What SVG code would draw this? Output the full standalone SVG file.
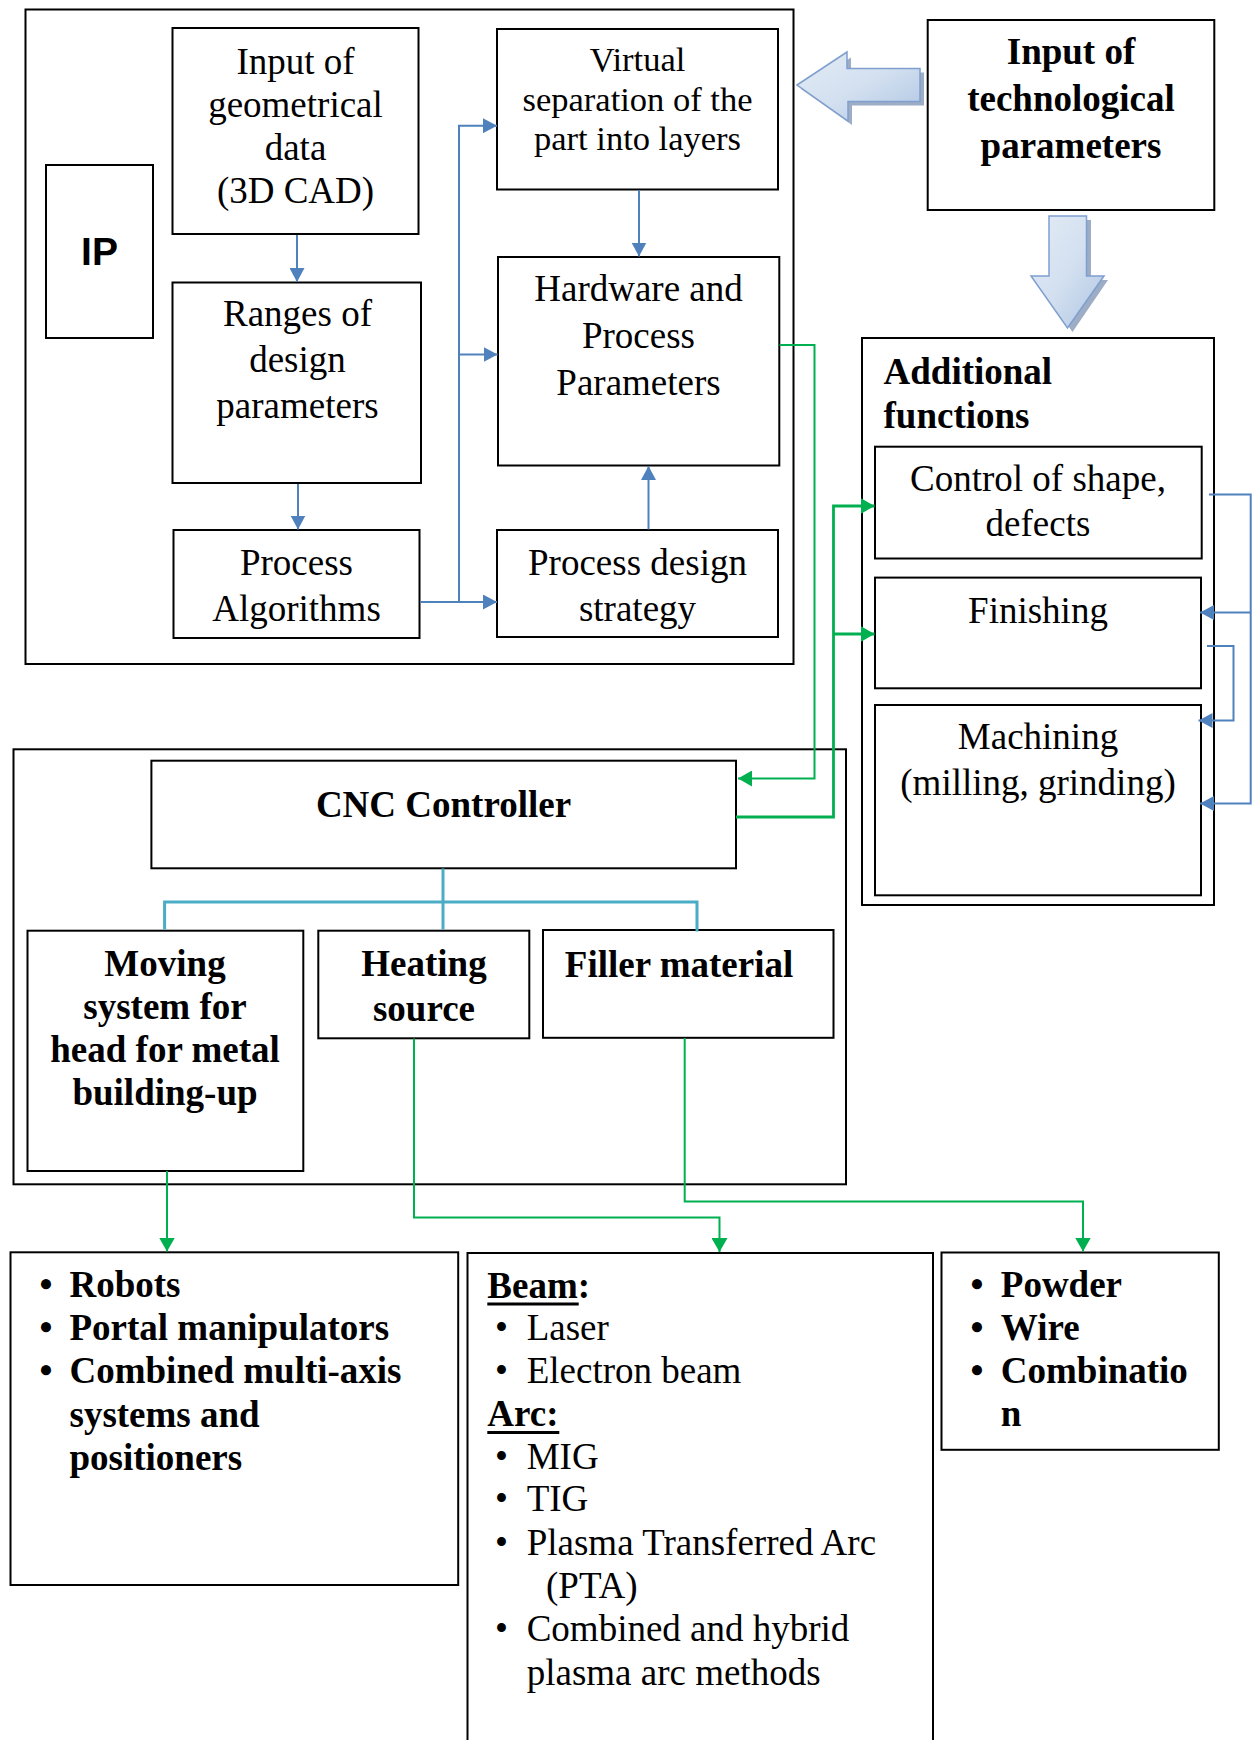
<svg xmlns="http://www.w3.org/2000/svg" width="1252" height="1740" viewBox="0 0 1252 1740">
<style>
.box{fill:#fff;stroke:#000;stroke-width:2}
.frame{fill:none;stroke:#000;stroke-width:2}
.t{font-family:"Liberation Serif","Times New Roman",serif;font-size:37px;fill:#000}
.c{text-anchor:middle}
.b{font-weight:bold}
.blue{fill:none;stroke:#4F81BD;stroke-width:2}
.green{fill:none;stroke:#00B050;stroke-width:2}
.cyan{fill:none;stroke:#4BACC6;stroke-width:3}
.blk{fill:url(#bg);stroke:#7F9FCF;stroke-width:1.5}
.shd{fill:#7E92B3;opacity:0.75}
</style>
<defs>
<marker id="ab" markerUnits="userSpaceOnUse" markerWidth="14" markerHeight="15" refX="14" refY="7.5" orient="auto"><path d="M0,0 L14,7.5 L0,15 z" fill="#4F81BD"/></marker>
<marker id="ag" markerUnits="userSpaceOnUse" markerWidth="14" markerHeight="16" refX="14" refY="8" orient="auto"><path d="M0,0 L14,8 L0,16 z" fill="#00B050"/></marker>
<linearGradient id="bg" x1="0" y1="0" x2="1" y2="1">
<stop offset="0" stop-color="#E4ECF6"/>
<stop offset="0.5" stop-color="#D3E0F0"/>
<stop offset="1" stop-color="#AFC6E3"/>
</linearGradient>
</defs>

<!-- frames -->
<rect id="ip-frame" class="frame" x="25.5" y="9.5" width="768" height="654.5"/>
<rect id="cnc-frame" class="frame" x="13.5" y="749.3" width="832.5" height="435"/>

<g id="ip"><rect class="box" x="46" y="165" width="107" height="173"/>
<text x="99.5" y="265" text-anchor="middle" font-family="'Liberation Sans',Arial,sans-serif" font-weight="bold" font-size="39">IP</text></g>

<g id="geom"><rect class="box" x="172.5" y="28" width="246" height="206"/>
<text class="t c" x="295.5"><tspan x="295.5" y="73.5">Input of</tspan><tspan x="295.5" y="116.8">geometrical</tspan><tspan x="295.5" y="160">data</tspan><tspan x="295.5" y="203.3">(3D CAD)</tspan></text></g>

<g id="ranges"><rect class="box" x="172.5" y="282.5" width="248.5" height="200.5"/>
<text class="t c"><tspan x="297.5" y="325.5">Ranges of</tspan><tspan x="297.5" y="371.5">design</tspan><tspan x="297.5" y="418">parameters</tspan></text></g>

<g id="algorithms"><rect class="box" x="173.5" y="530" width="246" height="108"/>
<text class="t c"><tspan x="296.5" y="574.5">Process</tspan><tspan x="296.5" y="621">Algorithms</tspan></text></g>

<g id="virtual"><rect class="box" x="497" y="29" width="281" height="160.5"/>
<text class="t c" style="font-size:34.5px"><tspan x="637.5" y="70.5">Virtual</tspan><tspan x="637.5" y="110.5">separation of the</tspan><tspan x="637.5" y="150">part into layers</tspan></text></g>

<g id="hardware"><rect class="box" x="498" y="257" width="281.3" height="208.5"/>
<text class="t c"><tspan x="638.5" y="301">Hardware and</tspan><tspan x="638.5" y="348">Process</tspan><tspan x="638.5" y="395">Parameters</tspan></text></g>

<g id="strategy"><rect class="box" x="497" y="530" width="281" height="107"/>
<text class="t c"><tspan x="637.5" y="574.5">Process design</tspan><tspan x="637.5" y="620.5">strategy</tspan></text></g>

<g id="tech"><rect class="box" x="927.7" y="20" width="286.6" height="190"/>
<text class="t c b"><tspan x="1071" y="64">Input of</tspan><tspan x="1071" y="111">technological</tspan><tspan x="1071" y="157.5">parameters</tspan></text></g>

<g id="additional"><rect class="box" x="862" y="338" width="352" height="567"/>
<text class="t b"><tspan x="883.5" y="383.5">Additional</tspan><tspan x="883.5" y="427.5">functions</tspan></text></g>

<g id="control"><rect class="box" x="875" y="446.7" width="326.7" height="111.8"/>
<text class="t c"><tspan x="1038" y="490.5">Control of shape,</tspan><tspan x="1038" y="535.5">defects</tspan></text></g>

<g id="finishing"><rect class="box" x="875" y="577.6" width="326" height="110.7"/>
<text class="t c" x="1038" y="623">Finishing</text></g>

<g id="machining"><rect class="box" x="875" y="705" width="326" height="190.3"/>
<text class="t c"><tspan x="1038" y="749">Machining</tspan><tspan x="1038" y="794.5">(milling, grinding)</tspan></text></g>

<g id="cnc"><rect class="box" x="151.4" y="760.7" width="584.6" height="107.6"/>
<text class="t c b" x="443.5" y="816.5">CNC Controller</text></g>

<g id="moving"><rect class="box" x="27.5" y="930.7" width="275.8" height="240.3"/>
<text class="t c b"><tspan x="165" y="976">Moving</tspan><tspan x="165" y="1019">system for</tspan><tspan x="165" y="1062">head for metal</tspan><tspan x="165" y="1105">building-up</tspan></text></g>

<g id="heating"><rect class="box" x="318.3" y="930.7" width="211" height="107.6"/>
<text class="t c b"><tspan x="424" y="976">Heating</tspan><tspan x="424" y="1021">source</tspan></text></g>

<g id="filler"><rect class="box" x="543" y="930" width="290.5" height="107.8"/>
<text class="t c b" x="679" y="976.5">Filler material</text></g>

<g id="movers"><rect class="box" x="10.5" y="1252.3" width="447.7" height="332.7"/>
<g class="t b">
<text x="39.5" y="1296.5">•</text><text x="69.5" y="1296.5">Robots</text>
<text x="39.5" y="1339.8">•</text><text x="69.5" y="1339.8">Portal manipulators</text>
<text x="39.5" y="1383.2">•</text><text x="69.5" y="1383.2">Combined multi-axis</text>
<text x="69.5" y="1426.5">systems and</text>
<text x="69.5" y="1469.5">positioners</text>
</g></g>

<g id="sources"><rect class="box" x="467.5" y="1253" width="465.5" height="500"/>
<g class="t">
<text class="b" x="487.3" y="1297.5">Beam:</text>
<text x="495" y="1340">•</text><text x="526.7" y="1340">Laser</text>
<text x="495" y="1383.3">•</text><text x="526.7" y="1383.3">Electron beam</text>
<text class="b" x="487.3" y="1426.3">Arc:</text>
<text x="495" y="1468.5">•</text><text x="526.7" y="1468.5">MIG</text>
<text x="495" y="1511">•</text><text x="526.7" y="1511">TIG</text>
<text x="495" y="1555">•</text><text x="526.7" y="1555">Plasma Transferred Arc</text>
<text x="546" y="1598.3">(PTA)</text>
<text x="495" y="1641">•</text><text x="526.7" y="1641">Combined and hybrid</text>
<text x="526.7" y="1684.5">plasma arc methods</text>
</g>
<line x1="487.3" y1="1304" x2="578.7" y2="1304" stroke="#000" stroke-width="3"/>
<line x1="487.3" y1="1432.5" x2="559.3" y2="1432.5" stroke="#000" stroke-width="3"/>
</g>

<g id="materials"><rect class="box" x="941.5" y="1252.5" width="277.3" height="197.3"/>
<g class="t b">
<text x="970.5" y="1296.5">•</text><text x="1000.8" y="1296.5">Powder</text>
<text x="970.5" y="1339.5">•</text><text x="1000.8" y="1339.5">Wire</text>
<text x="970.5" y="1383">•</text><text x="1000.8" y="1383">Combinatio</text>
<text x="1000.8" y="1426">n</text>
</g></g>

<!-- block arrows -->
<g id="block-arrow-left">
<path class="shd" d="M801,89 L851,57.5 V72.5 H924 V105.5 H852 V125 Z"/>
<path class="blk" d="M797,85 L847,52 V68.5 H920 V101.5 H848 V121 Z"/>
</g>
<g id="block-arrow-down">
<path class="shd" d="M1054,220 H1091 V280 H1108 L1072.5,332 L1036,280 H1054 Z"/>
<path class="blk" d="M1049,216 H1086.5 V276 H1104 L1067.5,328 L1031,276 H1049 Z"/>
</g>

<g id="connectors">
<path class="blue" d="M297,235 V282" marker-end="url(#ab)"/>
<path class="blue" d="M298,484 V529.5" marker-end="url(#ab)"/>
<path class="blue" d="M639,190 V256.5" marker-end="url(#ab)"/>
<path class="blue" d="M648.5,529.5 V466" marker-end="url(#ab)"/>
<path class="blue" d="M420,602 H497" marker-end="url(#ab)"/>
<path class="blue" d="M459,602 V125.7 H497" marker-end="url(#ab)"/>
<path class="blue" d="M459,354.5 H497.5" marker-end="url(#ab)"/>

<path class="green" d="M779.5,345 H814.5 V778.5 H738" marker-end="url(#ag)"/>
<path class="green" style="stroke-width:2.8" d="M736,817 H833.5 V506 H874.5" marker-end="url(#ag)"/>
<path class="green" style="stroke-width:2.8" d="M833.5,634 H874.5" marker-end="url(#ag)"/>

<path class="cyan" d="M443,868.5 V929.5"/>
<path class="cyan" d="M164.6,929.5 V902 H697 V931.5"/>

<path class="green" d="M167,1171 V1251.5" marker-end="url(#ag)"/>
<path class="green" d="M414,1038.5 V1217.5 H719.5 V1252" marker-end="url(#ag)"/>
<path class="green" d="M684.7,1038 V1201.5 H1083 V1251.5" marker-end="url(#ag)"/>

<path class="blue" d="M1209,494.5 H1250.7 V803.5 H1200" marker-end="url(#ab)"/>
<path class="blue" d="M1250.7,612.5 H1200" marker-end="url(#ab)"/>
<path class="blue" d="M1207,646 H1233.5 V720.5 H1198.5" marker-end="url(#ab)"/>
</g>
</svg>
